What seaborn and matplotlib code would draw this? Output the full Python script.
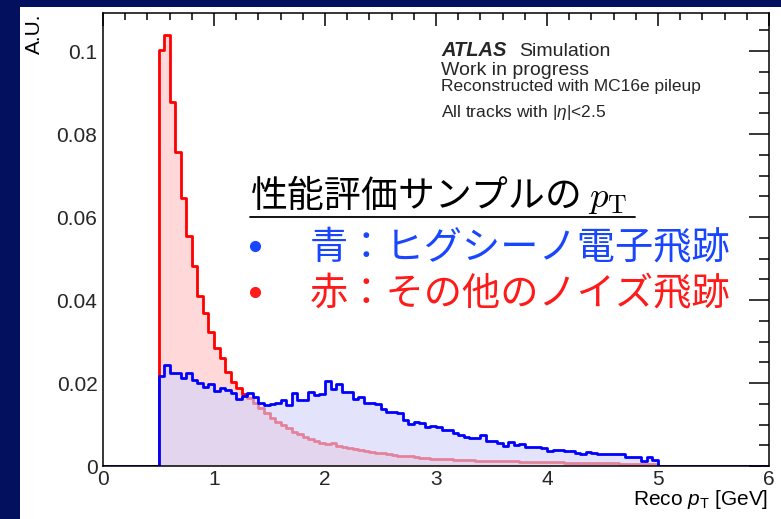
import numpy as np
import pandas as pd
import matplotlib
matplotlib.use("Agg")
import matplotlib.pyplot as plt
import seaborn as sns
from matplotlib.lines import Line2D
from matplotlib.patches import Rectangle
from matplotlib.ticker import MultipleLocator, FuncFormatter

# ---------------- data ----------------
bin_width = 0.05
x_start = 0.0

# empty bins 0.0-0.5 and 5.0-6.0
zeros_low = [0.0] * 10
zeros_high = [0.0] * 20

# Higgsino electron tracks (blue), bins 0.50 ... 4.95
signal_vals = [
    0.0216, 0.0243, 0.0225, 0.0224, 0.0213, 0.0224, 0.0207, 0.0201, 0.0190, 0.0198,
    0.0180, 0.0187, 0.0183, 0.0177, 0.0161, 0.0168, 0.0176, 0.0167, 0.0153, 0.0147,
    0.0150, 0.0152, 0.0158, 0.0147, 0.0177, 0.0159, 0.0160, 0.0178, 0.0171, 0.0173,
    0.0204, 0.0185, 0.0198, 0.0178, 0.0178, 0.0162, 0.0167, 0.0151, 0.0151, 0.0150,
    0.0137, 0.0129, 0.0131, 0.0127, 0.0111, 0.0101, 0.0106, 0.0103, 0.0093, 0.0097,
    0.0093, 0.0087, 0.0087, 0.0080, 0.0075, 0.0071, 0.0067, 0.0067, 0.0075, 0.0061,
    0.0061, 0.0055, 0.0048, 0.0057, 0.0050, 0.0052, 0.0047, 0.0047, 0.0045, 0.0043,
    0.0035, 0.0039, 0.0039, 0.0037, 0.0035, 0.0031, 0.0030, 0.0034, 0.0031, 0.0030,
    0.0029, 0.0028, 0.0028, 0.0028, 0.0022, 0.0022, 0.0021, 0.0012, 0.0022, 0.0014,
]

# other / noise tracks (red), bins 0.50 ... 4.95
noise_vals = [
    0.1002, 0.1039, 0.0878, 0.0757, 0.0645, 0.0555, 0.0483, 0.0410, 0.0368, 0.0324,
    0.0284, 0.0261, 0.0227, 0.0203, 0.0187, 0.0173, 0.0163, 0.0151, 0.0139, 0.0127,
    0.0116, 0.0107, 0.0099, 0.0091, 0.0083, 0.0076, 0.0071, 0.0066, 0.0060, 0.0055,
    0.0053, 0.0056, 0.0049, 0.0046, 0.0044, 0.0041, 0.0039, 0.0037, 0.0034, 0.0032,
    0.0031, 0.0029, 0.0027, 0.0025, 0.0024, 0.0023, 0.0022, 0.0020, 0.0019, 0.0018,
    0.0018, 0.0017, 0.0016, 0.0015, 0.0015, 0.0014, 0.0014, 0.0013, 0.0013, 0.0012,
    0.0012, 0.0012, 0.0011, 0.0011, 0.0011, 0.0010, 0.0010, 0.0010, 0.0010, 0.0009,
    0.0009, 0.0009, 0.0009, 0.0008, 0.0008, 0.0008, 0.0008, 0.0008, 0.0007, 0.0007,
    0.0007, 0.0007, 0.0007, 0.0006, 0.0006, 0.0006, 0.0006, 0.0006, 0.0006, 0.0006,
]

signal = zeros_low + signal_vals + zeros_high
noise = zeros_low + noise_vals + zeros_high
n_bins = len(signal)
edges = [round(x_start + i * bin_width, 4) for i in range(n_bins + 1)]
centers = [e + bin_width / 2 for e in edges[:-1]]

df_sig = pd.DataFrame({"pt": centers, "w": signal})
df_noise = pd.DataFrame({"pt": centers, "w": noise})

x_ticks_major = 1.0
y_ticks_major = 0.02

# ---------------- style ----------------
sns.set_style("white")
plt.rcParams["font.family"] = ["Liberation Sans", "Noto Sans CJK JP", "DejaVu Sans"]
plt.rcParams["mathtext.fontset"] = "custom"
plt.rcParams["mathtext.rm"] = "Liberation Sans"
plt.rcParams["mathtext.it"] = "Liberation Sans:italic"
plt.rcParams["mathtext.bf"] = "Liberation Sans:bold"

W, H = 781, 519
fig = plt.figure(figsize=(W / 100, H / 100), dpi=100)
fig.patch.set_facecolor("#03105e")
fig.add_artist(Rectangle((20 / W, 0), 1, 1 - 7 / H, transform=fig.transFigure,
                         facecolor="white", edgecolor="none", zorder=-5))

def fx(px):
    return px / W

def fy(py):
    return 1 - py / H

ax = fig.add_axes([fx(103), fy(466), (769 - 103) / W, (466 - 13) / H])
ax.set_facecolor("white")

hist_kw = dict(x="pt", weights="w", bins=edges, element="step", ax=ax)
# red: fill then outline
sns.histplot(data=df_noise, fill=True, color="#ff0000", alpha=0.15, linewidth=0,
             zorder=1, **hist_kw)
sns.histplot(data=df_noise, fill=False, color="#ff0000", linewidth=2.0,
             zorder=2, **hist_kw)
# blue: fill on top (fades the red line below it), then outline
sns.histplot(data=df_sig, fill=True, color="#d3d3fa", alpha=0.62, linewidth=0,
             zorder=3, **hist_kw)
sns.histplot(data=df_sig, fill=False, color="#0000ff", linewidth=2.0,
             zorder=4, **hist_kw)

ax.set_xlim(0, 6)
ax.set_ylim(0, 0.1092)
ax.set_xlabel("")
ax.set_ylabel("")

ax.xaxis.set_major_locator(MultipleLocator(x_ticks_major))
ax.xaxis.set_minor_locator(MultipleLocator(0.2))
ax.yaxis.set_major_locator(MultipleLocator(y_ticks_major))
ax.yaxis.set_minor_locator(MultipleLocator(0.005))
fmt = FuncFormatter(lambda v, p: f"{v:g}")
ax.xaxis.set_major_formatter(fmt)
ax.yaxis.set_major_formatter(fmt)

ax.tick_params(which="both", direction="in", top=True, right=True,
               color="black", width=1.1, labelsize=15)
ax.tick_params(axis="x", which="major", length=9.5, pad=3)
ax.tick_params(axis="x", which="minor", length=5)
ax.tick_params(axis="y", which="major", length=14.5, pad=4)
ax.tick_params(axis="y", which="minor", length=7.2)
for s in ax.spines.values():
    s.set_color("black")
    s.set_linewidth(1.1)
    s.set_zorder(5)

# axis titles
fig.text(fx(768), fy(505), r"Reco $p_{\mathrm{T}}$ [GeV]", ha="right", va="baseline",
         fontsize=15, color="black")
fig.text(fx(34), fy(13), "A.U.", rotation=90, ha="center", va="top",
         fontsize=15, color="black")

# ATLAS labels
fig.text(fx(441), fy(56), "ATLAS", fontweight="bold", style="italic",
         fontsize=14.5, va="baseline")
fig.text(fx(519), fy(56), "Simulation", fontsize=14, va="baseline")
fig.text(fx(441), fy(75), "Work in progress", fontsize=14, va="baseline")
fig.text(fx(441), fy(91), "Reconstructed with MC16e pileup", fontsize=12.5, va="baseline")
fig.text(fx(441), fy(117), r"All tracks with |$\eta$|<2.5", fontsize=12.5, va="baseline")

# Japanese annotation box
cjk = ["Noto Sans CJK JP", "DejaVu Sans"]
fig.text(fx(250), fy(207), "性能評価サンプルの $p_{\\mathrm{T}}$", fontsize=26.5,
         family=cjk, math_fontfamily="cm", va="baseline", color="black")
fig.add_artist(Line2D([fx(250), fx(635)], [fy(217.5), fy(217.5)],
                      transform=fig.transFigure, color="black", lw=1.3))

blue_txt = "#1846ff"
red_txt = "#ff1a1a"
fig.add_artist(Line2D([fx(255)], [fy(246)], transform=fig.transFigure, marker="o",
                      markersize=7, color=blue_txt, linestyle="none"))
fig.text(fx(310), fy(259), "青：ヒグシーノ電子飛跡", fontsize=27.5, family=cjk,
         va="baseline", color=blue_txt)
fig.add_artist(Line2D([fx(255)], [fy(292)], transform=fig.transFigure, marker="o",
                      markersize=7, color=red_txt, linestyle="none"))
fig.text(fx(310), fy(305), "赤：その他のノイズ飛跡", fontsize=27.5, family=cjk,
         va="baseline", color=red_txt)

fig.savefig("out.png", dpi=100, facecolor=fig.get_facecolor())
